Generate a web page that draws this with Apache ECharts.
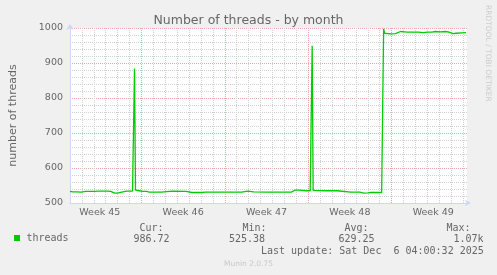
<!DOCTYPE html>
<html><head><meta charset="utf-8">
<script src="https://cdn.jsdelivr.net/npm/echarts@6/dist/echarts.min.js"></script>
<style>html,body{margin:0;padding:0;background:#f0f0f0;}#c{width:497px;height:275px;}</style>
</head><body><div id="c"></div>
<script>
// time in hours from the left edge of the graph (month view)
const hours = [0,6,10,14,18,22,26,32,36,42,
 50,56,66,76,82,86,90,96,100,104,
 108,114,120,126,128,130,132,136,140,146,
 154,160,170,184,186,206,234,238,246,250,
 266,272,296,326,346,350,358,362,370,372,
 396,406,422,424,428,446,448,454,456,462,
 464,476,484,486,488,490,492,516,538,540,
 566,584,588,592,596,600,606,628,630,632,
 634,638,646,656,660,666,674,680,690,702,
 712,716,720,730,736,746,756,762,766,772,
 778,782,790,798];
const threads = [533,532,534,532,533,531,533,533,531,533,
 533,534,534,534,533,530,528,528,529,531,
 532,534,534,534,534,884,537,536,535,533,
 533,531,531,531,534,534,533,531,530,530,
 530,531,531,531,531,534,534,531,532,531,
 531,531,531,529,531,531,534,537,534,537,
 534,535,535,536,949,536,535,535,535,531,
 531,531,529,528,530,529,530,530,530,998,
 985,983,983,984,989,990,989,988,988,988,
 987,984,988,988,990,989,990,989,985,984,
 985,986,986,986.72];
const weekCenters = [60, 228, 396, 564, 732];
const weekLabels = ['Week 45','Week 46','Week 47','Week 48','Week 49'];
const seriesName = 'threads';
const statNames = ['Cur:','Min:','Avg:','Max:'];
const statValues = ['986.72','525.38','629.25','1.07k'];
const lastUpdate = 'Last update: Sat Dec  6 04:00:32 2025';
const footer = 'Munin 2.0.75';
const watermark = 'RRDTOOL / TOBI OETIKER';
const titleText = 'Number of threads - by month';
const yName = 'number of threads';

const GREY = '#d2d2d2', RED = '#e8a8a8', AXIS = '#CFD6F8', FONT = '#666';
const mono = '"DejaVu Sans Mono"';
const statNameX = [139.5, 242.5, 344.5, 446.5];
const statValX = [133.5, 229, 338.5, 453.5];
const graphic = [];
statNames.forEach((t,i)=>graphic.push({type:'text', x:statNameX[i], y:228,
  style:{text:t, font:'10px '+mono, fill:FONT, align:'left', verticalAlign:'middle'}}));
statValues.forEach((t,i)=>graphic.push({type:'text', x:statValX[i], y:239.5,
  style:{text:t, font:'10px '+mono, fill:FONT, align:'left', verticalAlign:'middle'}}));
graphic.push({type:'text', x:261, y:251,
  style:{text:lastUpdate, font:'10px '+mono, fill:FONT, align:'left', verticalAlign:'middle'}});
graphic.push({type:'text', x:248.5, y:264.5,
  style:{text:footer, font:'7.5px "DejaVu Sans"', fill:'#c8c8c8', align:'center', verticalAlign:'middle'}});
graphic.push({type:'text', x:488, y:5, rotation:-Math.PI/2,
  style:{text:watermark, font:'7.5px "DejaVu Sans"', fill:'#cccccc', align:'left', verticalAlign:'middle'}});

const xColors = [GREY,GREY,GREY,GREY,GREY,GREY,RED];

const chart = echarts.init(document.getElementById('c'), null, {renderer:'canvas'});
chart.setOption({
  animation:false,
  backgroundColor:'#f0f0f0',
  textStyle:{fontFamily:'DejaVu Sans'},
  title:{text:titleText, left:'center', top:9,
    textStyle:{fontFamily:'DejaVu Sans', fontSize:12.5, fontWeight:'normal', color:FONT}},
  legend:{data:[seriesName], left:14, top:233, padding:0, icon:'rect', itemWidth:6, itemHeight:6,
    textStyle:{fontFamily:'DejaVu Sans Mono', fontSize:10, color:FONT, padding:[0,0,0,1.5]}},
  grid:{left:67, right:30, top:28, bottom:72, show:true, backgroundColor:'#ffffff', borderWidth:0},
  xAxis:{type:'value', min:0, max:800, interval:24,
    axisLine:{show:true, lineStyle:{color:AXIS, width:1}, symbol:['none','arrow'], symbolSize:[5,6], symbolOffset:[0,4]},
    axisTick:{show:false},
    axisLabel:{customValues:weekCenters, margin:5, fontFamily:'DejaVu Sans', fontSize:9.5, color:FONT,
      formatter:(v)=>{const i = weekCenters.indexOf(v); return i>=0 ? weekLabels[i] : '';}},
    splitLine:{show:true, showMaxLine:false, lineStyle:{color:xColors, width:1, type:[1,1]}}
  },
  yAxis:{type:'value', min:500, max:1000, interval:100, name:yName, nameLocation:'middle', nameGap:51,
    nameTextStyle:{fontFamily:'DejaVu Sans', fontSize:11, color:FONT},
    axisLine:{show:true, lineStyle:{color:AXIS, width:1}, symbol:['none','arrow'], symbolSize:[6,6], symbolOffset:[0,4]},
    axisTick:{show:false},
    axisLabel:{margin:7, fontFamily:'DejaVu Sans', fontSize:9.5, color:FONT, formatter:(v)=>String(v)},
    splitLine:{show:true, lineStyle:{color:RED, width:1, type:[1,1]}},
    minorTick:{show:false, splitNumber:5},
    minorSplitLine:{show:true, lineStyle:{color:GREY, width:1, type:[1,1]}}
  },
  graphic:graphic,
  series:[{name:seriesName, type:'line', data:hours.map((h,i)=>[h, threads[i]]),
    showSymbol:false, symbol:'none', color:'#00cc00', lineStyle:{color:'#00cc00', width:1.3}}]
});
</script></body></html>
